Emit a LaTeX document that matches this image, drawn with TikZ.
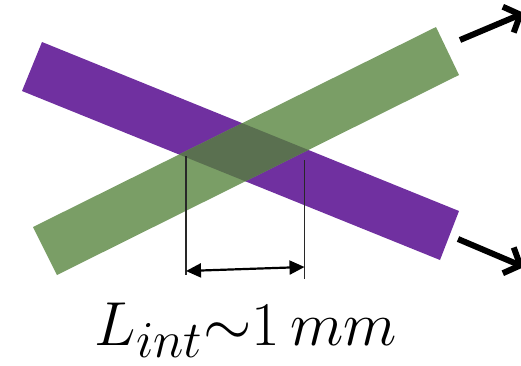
\documentclass[tikz,border=0pt]{standalone}
\usepackage{graphicx}
\usetikzlibrary{arrows.meta}
\definecolor{barpurple}{RGB}{112,48,160}
\definecolor{bargreen}{RGB}{122,158,102}
\definecolor{overlapc}{RGB}{90,112,80}
\definecolor{dimgray}{RGB}{40,40,40}
\begin{document}
\begin{tikzpicture}[x=1pt,y=-1pt,
  thickarrow/.style={line width=6pt,-{Straight Barb[length=13pt,width=28pt,line width=6pt]}},
  dimline/.style={draw=dimgray,line width=1.3pt},
  dimarrow/.style={line width=2.2pt,{Triangle[length=15pt,width=14pt]}-{Triangle[length=15pt,width=14pt]}}]
\useasboundingbox (0,0) rectangle (521,365);
% bars
\fill[barpurple] (42,42) -- (459,211) -- (440,260) -- (22,91) -- cycle;
\fill[bargreen] (33,227) -- (436,27) -- (459,75) -- (57,275) -- cycle;
\begin{scope}
  \clip (33,227) -- (436,27) -- (459,75) -- (57,275) -- cycle;
  \fill[overlapc] (42,42) -- (459,211) -- (440,260) -- (22,91) -- cycle;
\end{scope}
% outgoing arrows
\coordinate (ga) at (460,40);
\coordinate (gb) at (524,13);
\coordinate (pa) at (458,239);
\coordinate (pb) at (524,267);
\draw[thickarrow] (ga) -- (gb);
\draw[thickarrow] (pa) -- (pb);
% dimension lines
\coordinate (l1) at (186,156);
\coordinate (l2) at (186,275);
\coordinate (r1) at (304.5,160);
\coordinate (r2) at (304.5,279);
\draw[dimline] (l1) -- (l2);
\draw[dimline] (r1) -- (r2);
\coordinate (da) at (186,271);
\coordinate (db) at (304.5,267);
\draw[dimarrow] (da) -- (db);
% label
\node[anchor=base,inner sep=0pt] (lab) at (246,345) {\scalebox{2.5}{\Huge$L_{int}{\sim}1\,mm$}};
\end{tikzpicture}
\end{document}
